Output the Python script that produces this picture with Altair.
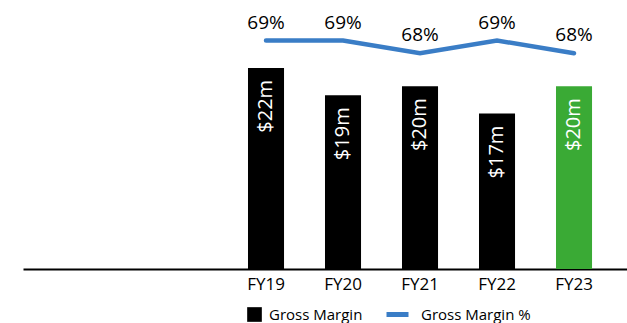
import altair as alt
import pandas as pd

# Fiscal years and values
years = ["FY19", "FY20", "FY21", "FY22", "FY23"]
gross_margin = [22, 19, 20, 17, 20]          # $ millions
gross_margin_pct = [69, 69, 68, 69, 68]      # percent

bar_labels = [f"${v}m" for v in gross_margin]
pct_labels = [f"{v}%" for v in gross_margin_pct]

# two empty slots to the left of the first fiscal year
x_domain = ["_pad1", "_pad2"] + years

df = pd.DataFrame({
    "year": years,
    "margin": gross_margin,
    "pct": gross_margin_pct,
    "bar_label": bar_labels,
    "pct_label": pct_labels,
    "series": "Gross Margin",
    "line_series": "Gross Margin %",
})

FONT = "Open Sans"
GREEN = "#3aaa35"
BLUE = "#3a7dc6"

x_enc = alt.X(
    "year:N",
    scale=alt.Scale(domain=x_domain, paddingInner=0.532, paddingOuter=0.688, align=0.67),
    axis=alt.Axis(
        title=None, domainColor="black", domainWidth=2, ticks=False,
        labelAngle=0, labelFontSize=17, labelColor="black", labelFont=FONT,
        labelPadding=7,
        labelExpr="indexof(datum.value, 'FY') == 0 ? datum.value : ''",
    ),
)

bar_y = alt.Y("margin:Q", scale=alt.Scale(domain=[0, 29.43], nice=False, zero=True), axis=None)
pct_y = alt.Y("pct:Q", scale=alt.Scale(domain=[51.01, 72.19], nice=False, zero=False), axis=None)

base = alt.Chart(df)

bars = base.mark_bar().encode(
    x=x_enc,
    y=bar_y,
    color=alt.condition(
        "datum.year == 'FY23'",
        alt.value(GREEN),
        alt.Color(
            "series:N",
            scale=alt.Scale(domain=["Gross Margin"], range=["black"]),
            legend=alt.Legend(
                title=None, orient="none", legendX=224, legendY=307,
                direction="horizontal", symbolType="square", symbolSize=215,
                symbolStrokeWidth=0, labelFontSize=15, labelFont=FONT,
                labelColor="black", labelOffset=7,
            ),
        ),
    ),
)

bar_text = base.mark_text(
    angle=270, align="right", baseline="middle", yOffset=12,
    fontSize=20, color="white", font=FONT,
).encode(x=x_enc, y=bar_y, text="bar_label:N")

line = base.mark_line(strokeWidth=4.5, strokeCap="round").encode(
    x=x_enc,
    y=pct_y,
    stroke=alt.Stroke(
        "line_series:N",
        scale=alt.Scale(domain=["Gross Margin %"], range=[BLUE]),
        legend=alt.Legend(
            title=None, orient="none", legendX=361, legendY=301,
            direction="horizontal", symbolType="stroke", symbolSize=484,
            symbolStrokeWidth=5, labelFontSize=15, labelFont=FONT,
            labelColor="black", labelOffset=10,
        ),
    ),
)

pct_text = base.mark_text(
    baseline="alphabetic", yOffset=-12, fontSize=19, color="black", font=FONT,
).encode(x=x_enc, y=pct_y, text="pct_label:N")

chart = (
    alt.layer(bars, bar_text, line, pct_text)
    .resolve_scale(y="independent")
    .properties(
        width=604, height=269, autosize="none",
        padding={"left": 23, "top": 0, "right": 0, "bottom": 54},
        background="white",
    )
    .configure_view(stroke=None)
)

chart.save("out.html", embed_options={"renderer": "svg", "actions": False})
